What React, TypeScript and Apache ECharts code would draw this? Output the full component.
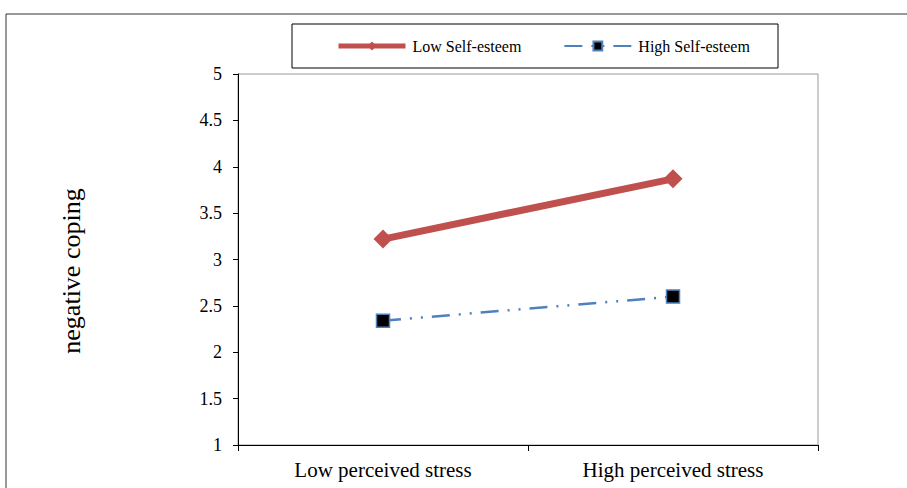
import React, { useEffect, useRef } from "react";
import * as echarts from "echarts";

const categories = ["Low perceived stress", "High perceived stress"];
const lowSelfEsteem = [3.22, 3.87];
const highSelfEsteem = [2.34, 2.6];
const seriesNames = ["Low Self-esteem", "High Self-esteem"];
const yAxisTitle = "negative coping";

export default function App() {
  const ref = useRef<HTMLDivElement>(null);
  useEffect(() => {
    if (!ref.current) return;
    const chart = echarts.init(ref.current, null, { renderer: "svg" });
    const font = "'Liberation Serif', 'Times New Roman', serif";
    chart.setOption({
      animation: false,
      backgroundColor: "#ffffff",
      textStyle: { fontFamily: font },
      graphic: [
        {
          type: "rect",
          shape: { x: 6, y: 14, width: 960, height: 600 },
          style: { fill: "none", stroke: "#333", lineWidth: 1 },
          z: -1,
        },
        {
          type: "rect",
          shape: { x: 292, y: 24, width: 486, height: 44 },
          style: { fill: "#fff", stroke: "#000", lineWidth: 1 },
          z: 0,
        },
        {
          type: "text",
          x: 71,
          y: 271,
          rotation: Math.PI / 2,
          style: {
            text: yAxisTitle,
            font: `26px ${font}`,
            fill: "#000",
            align: "center",
            verticalAlign: "middle",
          },
        },
      ],
      legend: {
        left: 336,
        top: 38,
        padding: 0,
        itemWidth: 67,
        itemHeight: 11,
        itemGap: 42,
        textStyle: { fontFamily: font, fontSize: 16, color: "#000", padding: [0, 0, 0, 2] },
        data: [
          { name: seriesNames[0], lineStyle: { width: 5 } },
          { name: seriesNames[1], lineStyle: { width: 2 } },
        ],
        z: 10,
      },
      grid: {
        left: 238,
        right: 89,
        top: 74,
        bottom: 43,
        show: true,
        borderColor: "#999",
        borderWidth: 1,
      },
      xAxis: {
        type: "category",
        data: categories,
        boundaryGap: true,
        axisLine: { lineStyle: { color: "#000", width: 1 } },
        axisTick: { show: true, length: 6, lineStyle: { color: "#000" } },
        axisLabel: { fontSize: 21, color: "#000", margin: 14, fontFamily: font },
      },
      yAxis: {
        type: "value",
        min: 1,
        max: 5,
        interval: 0.5,
        splitLine: { show: false },
        axisLine: { show: true, lineStyle: { color: "#000", width: 1 } },
        axisTick: { show: true, length: 5, lineStyle: { color: "#000" } },
        axisLabel: { fontSize: 18, color: "#000", margin: 16, fontFamily: font },
      },
      series: [
        {
          name: seriesNames[0],
          type: "line",
          data: lowSelfEsteem,
          symbol: "diamond",
          symbolSize: 19,
          itemStyle: { color: "#C0504D" },
          lineStyle: { color: "#C0504D", width: 7 },
          z: 3,
        },
        {
          name: seriesNames[1],
          type: "line",
          data: highSelfEsteem,
          symbol: "rect",
          symbolSize: 13,
          itemStyle: { color: "#000", borderColor: "#4F81BD", borderWidth: 1.5 },
          lineStyle: { color: "#4F81BD", width: 2.5, type: [18, 9, 2, 9, 2, 9] },
          z: 3,
        },
      ],
    });
    return () => chart.dispose();
  }, []);
  return (
    <div
      ref={ref}
      style={{ position: "absolute", left: 0, top: 0, width: 907, height: 488 }}
    />
  );
}
